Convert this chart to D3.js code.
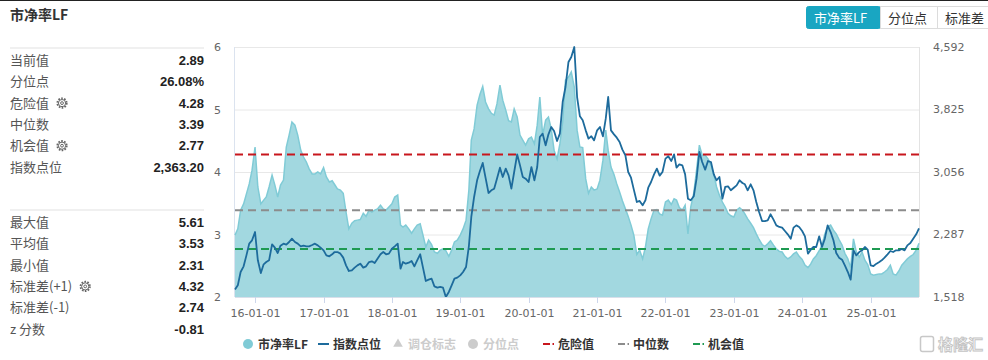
<!DOCTYPE html>
<html>
<head>
<meta charset="utf-8">
<script src="https://cdn.jsdelivr.net/npm/d3@7"></script>
<style>
  body { margin: 0; background: #fff; }
  svg { display: block; }
</style>
</head>
<body>
<div id="chart"></div>
<script>
// PB (LF) valuation chart - semi-monthly samples from 2015-09-16 to 2025-09-16

const pbSeries = [
  2.99, 3.09, 3.39, 3.49, 3.65, 3.81, 4.03, 4.40, 3.76, 3.49,
  3.55, 3.60, 3.76, 3.95, 3.79, 3.60, 3.79, 3.87, 4.40, 4.59,
  4.80, 4.75, 4.59, 4.35, 4.24, 4.16, 4.05, 3.97, 3.97, 4.00,
  3.97, 4.07, 3.92, 3.84, 3.86, 3.80, 3.73, 3.71, 3.66, 3.36,
  3.09, 3.18, 3.22, 3.23, 3.24, 3.34, 3.29, 3.39, 3.36, 3.39,
  3.41, 3.47, 3.41, 3.39, 3.44, 3.49, 3.60, 3.63, 3.15, 3.12,
  3.15, 3.09, 3.02, 3.09, 3.15, 3.17, 2.99, 2.80, 2.91, 2.84,
  2.72, 2.70, 2.75, 2.77, 2.74, 2.65, 2.75, 2.88, 2.91, 2.99,
  3.09, 3.23, 3.71, 4.51, 4.69, 5.07, 5.24, 5.37, 5.12, 5.01,
  4.94, 4.91, 5.09, 5.39, 5.15, 4.99, 4.82, 4.80, 5.01, 4.88,
  4.59, 4.51, 4.43, 4.53, 4.56, 4.45, 4.75, 5.20, 4.59, 4.83,
  4.88, 4.69, 4.35, 4.21, 4.45, 4.80, 5.47, 5.52, 5.60, 5.36,
  4.67, 4.40, 4.39, 3.89, 3.66, 3.76, 3.71, 3.73, 3.87, 4.19,
  4.67, 4.35, 4.08, 3.96, 3.81, 3.68, 3.54, 3.41, 3.29, 3.15,
  2.99, 2.68, 2.75, 2.61, 2.80, 3.09, 3.25, 3.39, 3.40, 3.33,
  3.31, 3.52, 3.55, 3.48, 3.57, 3.55, 3.43, 3.39, 3.47, 3.01,
  3.44, 3.66, 4.03, 4.43, 4.27, 4.27, 4.21, 4.11, 3.96, 3.76,
  3.63, 3.52, 3.44, 3.34, 3.30, 3.28, 3.39, 3.43, 3.39, 3.33,
  3.25, 3.18, 3.11, 3.01, 2.92, 2.84, 2.81, 2.85, 2.90, 2.83,
  2.77, 2.73, 2.72, 2.65, 2.61, 2.64, 2.69, 2.72, 2.65, 2.60,
  2.51, 2.47, 2.53, 2.61, 2.66, 2.74, 2.83, 3.01, 3.12, 3.15,
  3.07, 3.01, 2.92, 2.83, 2.70, 2.61, 2.47, 2.93, 2.72, 2.64,
  2.72, 2.59, 2.52, 2.37, 2.35, 2.36, 2.37, 2.37, 2.40, 2.44,
  2.51, 2.37, 2.35, 2.42, 2.51, 2.56, 2.61, 2.65, 2.68, 2.75,
  2.86
];

const indexSeries = [
  1610, 1661, 1825, 1895, 2030, 2174, 2215, 2317, 1969, 1813,
  1920, 1948, 1969, 2166, 2125, 2059, 2149, 2174, 2161, 2194,
  2235, 2194, 2174, 2141, 2149, 2141, 2141, 2157, 2174, 2153,
  2125, 2092, 2030, 2018, 2043, 2071, 2071, 2051, 2002, 1907,
  1838, 1846, 1879, 1907, 1928, 1879, 1895, 1948, 1957, 1936,
  1989, 2043, 2071, 2043, 2051, 2112, 2141, 2174, 1866, 1948,
  1928, 1940, 1961, 1895, 1969, 2043, 1879, 1715, 1731, 1743,
  1649, 1633, 1641, 1633, 1518, 1580, 1661, 1743, 1756, 1784,
  1825, 1887, 2141, 2502, 2748, 2953, 3067, 3166, 2985, 2797,
  2830, 2850, 2973, 3108, 2994, 3096, 3014, 2850, 3055, 3272,
  3137, 2994, 2973, 2932, 3116, 2953, 3116, 3485, 3526, 3383,
  3518, 3608, 3559, 3436, 3526, 3916, 4100, 4408, 4469, 4592,
  3977, 3740, 3690, 3567, 3465, 3494, 3444, 3567, 3608, 3494,
  3711, 3977, 3567, 3518, 3477, 3424, 3330, 3260, 3055, 2985,
  2838, 2686, 2699, 2645, 2707, 2862, 2932, 3026, 3096, 3010,
  3055, 3219, 3248, 3190, 3272, 3108, 3149, 3137, 3026, 2727,
  2707, 2756, 2973, 3301, 3178, 3084, 3190, 3178, 3026, 2953,
  2994, 2727, 2871, 2879, 2830, 2862, 2891, 2953, 2920, 2904,
  2830, 2904, 2830, 2686, 2563, 2452, 2452, 2461, 2535, 2469,
  2399, 2379, 2371, 2330, 2289, 2235, 2371, 2399, 2379, 2330,
  2264, 2051, 2100, 2133, 2133, 2264, 2133, 2235, 2399, 2317,
  2215, 2059, 2002, 1977, 1907, 1825, 1731, 2092, 2030, 2071,
  2092, 2133, 2100, 1907, 1899, 1928, 1948, 1969, 2002, 2043,
  2084, 2071, 2092, 2092, 2108, 2092, 2153, 2182, 2235, 2289,
  2363.2
];

const refNames = ["危险值", "中位数", "机会值"];
const refValues = [4.28, 3.39, 2.77];
const refColors = ["#c8161d", "#8c8c8c", "#1e9a52"];

const leftTicks = [2, 3, 4, 5, 6];
const rightTicks = [1518, 2287, 3056, 3825, 4592];

const statLabelsTop = ["当前值", "分位点", "危险值", "中位数", "机会值", "指数点位"];
const statValuesTop = ["2.89", "26.08%", "4.28", "3.39", "2.77", "2,363.20"];
const statLabelsBottom = ["最大值", "平均值", "最小值", "标准差(+1)", "标准差(-1)", "z 分数"];
const statValuesBottom = ["5.61", "3.53", "2.31", "4.32", "2.74", "-0.81"];
const gearRowsTop = [2, 4];
const gearRowsBottom = [3];

const tabNames = ["市净率LF", "分位点", "标准差"];
const legendNames = ["市净率LF", "指数点位", "调仓标志", "分位点", "危险值", "中位数", "机会值"];

// semi-monthly dates (16th / 1st)
const dates = pbSeries.map((_, i) =>
  new Date(2015, 8 + Math.ceil(i / 2), i % 2 === 0 ? 16 : 1));

const W = 988, H = 360;
const plot = { left: 235, right: 919, top: 47, bottom: 297 };
const cnFont = "'Noto Sans CJK SC', 'Noto Sans', sans-serif";
const axisFont = "'DejaVu Sans', sans-serif";

const svg = d3.select("#chart").append("svg")
  .attr("width", W)
  .attr("height", H);

// top border
svg.append("rect").attr("x", 0).attr("y", 0).attr("width", W).attr("height", 1).attr("fill", "#222");

// title
svg.append("text")
  .attr("x", 10).attr("y", 20)
  .attr("font-family", cnFont).attr("font-size", 14).attr("font-weight", "bold")
  .attr("fill", "#333")
  .text("市净率LF");

// tabs
const tabX = [806, 880, 937, 1000];
tabNames.forEach((name, i) => {
  svg.append("rect")
    .attr("x", tabX[i] + 0.5).attr("y", 6.5)
    .attr("width", tabX[i + 1] - tabX[i]).attr("height", 22)
    .attr("rx", i === 0 ? 2 : 0)
    .attr("fill", i === 0 ? "#19a6c2" : "#fff")
    .attr("stroke", i === 0 ? "#19a6c2" : "#dcdcdc");
  svg.append("text")
    .attr("x", tabX[i] + 8).attr("y", 22.5)
    .attr("font-family", cnFont).attr("font-size", 13)
    .attr("fill", i === 0 ? "#fff" : "#333")
    .text(name);
});

// stats panel
function gear(cx, cy) {
  const g = svg.append("g").attr("transform", `translate(${cx},${cy})`);
  g.append("circle").attr("r", 4.6).attr("fill", "none").attr("stroke", "#666")
    .attr("stroke-width", 2).attr("stroke-dasharray", "1.6 1.3");
  g.append("circle").attr("r", 3.6).attr("fill", "#fff").attr("stroke", "#666").attr("stroke-width", 1);
  g.append("circle").attr("r", 1.4).attr("fill", "none").attr("stroke", "#666").attr("stroke-width", 1);
}

function statBlock(labels, values, gears, sepY, rowY0) {
  svg.append("line")
    .attr("x1", 10).attr("x2", 204).attr("y1", sepY).attr("y2", sepY)
    .attr("stroke", "#ebebeb").attr("stroke-width", 1.5);
  labels.forEach((lab, i) => {
    const y = rowY0 + i * 21.3;
    const t = svg.append("text")
      .attr("x", 10).attr("y", y + 5)
      .attr("font-family", cnFont).attr("font-size", 13).attr("fill", "#555")
      .text(lab);
    svg.append("text")
      .attr("x", 204).attr("y", y + 5)
      .attr("text-anchor", "end")
      .attr("font-family", "'Liberation Sans', Arial, sans-serif").attr("font-size", 13)
      .attr("font-weight", "bold").attr("fill", "#222")
      .text(values[i]);
    if (gears.includes(i)) {
      const w = t.node().getComputedTextLength();
      gear(10 + w + 13, y + 0.5);
    }
  });
}
statBlock(statLabelsTop, statValuesTop, gearRowsTop, 48, 60);
statBlock(statLabelsBottom, statValuesBottom, gearRowsBottom, 210, 222);

// scales
const x = d3.scaleTime().domain(d3.extent(dates)).range([plot.left, plot.right]);
const yL = d3.scaleLinear().domain([2, 6]).range([plot.bottom, plot.top]);
const yR = d3.scaleLinear().domain([1518, 4592]).range([plot.bottom, plot.top]);

// grid
svg.append("g").selectAll("line")
  .data(leftTicks.slice(1))
  .join("line")
  .attr("x1", plot.left).attr("x2", plot.right)
  .attr("y1", d => yL(d) + 0.5).attr("y2", d => yL(d) + 0.5)
  .attr("stroke", "#e8e8e8").attr("stroke-width", 1);

// frame sides
svg.append("line").attr("x1", plot.left - 0.5).attr("x2", plot.left - 0.5)
  .attr("y1", plot.top).attr("y2", plot.bottom).attr("stroke", "#dbe3ef");
svg.append("line").attr("x1", plot.right + 0.5).attr("x2", plot.right + 0.5)
  .attr("y1", plot.top).attr("y2", plot.bottom).attr("stroke", "#e3e3e3");

// PB area
const area = d3.area()
  .x((d, i) => x(dates[i]))
  .y0(yL(2))
  .y1(d => yL(d));
const topLine = d3.line()
  .x((d, i) => x(dates[i]))
  .y(d => yL(d));

svg.append("path")
  .datum(pbSeries)
  .attr("d", area)
  .attr("fill", "#a2d8e0");
svg.append("path")
  .datum(pbSeries)
  .attr("d", topLine)
  .attr("fill", "none")
  .attr("stroke", "#80cbd6")
  .attr("stroke-width", 1.5);

// reference lines
svg.append("g").selectAll("line")
  .data(refValues)
  .join("line")
  .attr("x1", plot.left).attr("x2", plot.right)
  .attr("y1", d => yL(d)).attr("y2", d => yL(d))
  .attr("stroke", (d, i) => refColors[i])
  .attr("stroke-width", 2)
  .attr("stroke-dasharray", "8 5");

// index line
const idxLine = d3.line()
  .x((d, i) => x(dates[i]))
  .y(d => yR(d));
svg.append("path")
  .datum(indexSeries)
  .attr("d", idxLine)
  .attr("fill", "none")
  .attr("stroke", "#1d6b9c")
  .attr("stroke-width", 1.8)
  .attr("stroke-linejoin", "round");

// x axis
svg.append("line").attr("x1", plot.left).attr("x2", plot.right)
  .attr("y1", plot.bottom + 0.5).attr("y2", plot.bottom + 0.5).attr("stroke", "#d8dfea");
const years = d3.timeYear.range(new Date(2016, 0, 1), new Date(2026, 0, 1))
  .filter(d => d <= x.domain()[1]);
const fmt = d3.timeFormat("%y-%m-%d");
const xt = svg.append("g").selectAll("g").data(years).join("g")
  .attr("transform", d => `translate(${Math.round(x(d)) + 0.5},0)`);
xt.append("line").attr("y1", plot.bottom).attr("y2", plot.bottom + 6).attr("stroke", "#ccd6eb");
xt.append("text")
  .attr("y", 317)
  .attr("text-anchor", "middle")
  .attr("font-family", axisFont).attr("font-size", 11).attr("fill", "#666")
  .text(d => fmt(d));

// left axis labels
svg.append("g").selectAll("text").data(leftTicks).join("text")
  .attr("x", 221).attr("y", d => yL(d) + 4)
  .attr("text-anchor", "end")
  .attr("font-family", axisFont).attr("font-size", 11).attr("fill", "#666")
  .text(d => d);

// right axis labels
const rfmt = d3.format(",");
svg.append("g").selectAll("text").data(rightTicks).join("text")
  .attr("x", 933).attr("y", d => yR(d) + 4)
  .attr("font-family", axisFont).attr("font-size", 11).attr("fill", "#666")
  .text(d => rfmt(d));

// legend
const legendX = [248, 318, 398, 473, 543, 618, 693];
const legendY = 344;
const legendActive = [true, true, false, false, true, true, true];
legendNames.forEach((name, i) => {
  const lx = legendX[i];
  const g = svg.append("g");
  let tx = lx + 10;
  if (i === 0) {
    g.append("circle").attr("cx", lx).attr("cy", legendY).attr("r", 5).attr("fill", "#80cbd6");
  } else if (i === 1) {
    g.append("line").attr("x1", lx).attr("x2", lx + 11).attr("y1", legendY).attr("y2", legendY)
      .attr("stroke", "#1d6b9c").attr("stroke-width", 2);
    tx = lx + 15;
  } else if (i === 2) {
    g.append("path").attr("d", d3.symbol(d3.symbolTriangle, 40)())
      .attr("transform", `translate(${lx},${legendY})`).attr("fill", "#ccc");
  } else if (i === 3) {
    g.append("circle").attr("cx", lx).attr("cy", legendY).attr("r", 5).attr("fill", "#ccc");
  } else {
    const c = refColors[i - 4];
    g.append("line").attr("x1", lx).attr("x2", lx + 7).attr("y1", legendY).attr("y2", legendY)
      .attr("stroke", c).attr("stroke-width", 2);
    g.append("rect").attr("x", lx + 9.5).attr("y", legendY - 1).attr("width", 1.5).attr("height", 2).attr("fill", c);
    tx = lx + 15;
  }
  g.append("text")
    .attr("x", tx).attr("y", legendY + 4.5)
    .attr("font-family", cnFont).attr("font-size", 12).attr("font-weight", "bold")
    .attr("fill", legendActive[i] ? "#333" : "#ccc")
    .text(name);
});

// watermark
svg.append("rect").attr("x", 920.5).attr("y", 336.5).attr("width", 13).attr("height", 15).attr("rx", 2)
  .attr("fill", "none").attr("stroke", "#c8c8c8").attr("stroke-width", 1.5);
svg.append("text")
  .attr("x", 938).attr("y", 350)
  .attr("font-family", cnFont).attr("font-size", 15).attr("font-weight", "bold")
  .attr("fill", "#fff").attr("stroke", "#c4c4c4").attr("stroke-width", 0.9)
  .text("格隆汇");
</script>
</body>
</html>
